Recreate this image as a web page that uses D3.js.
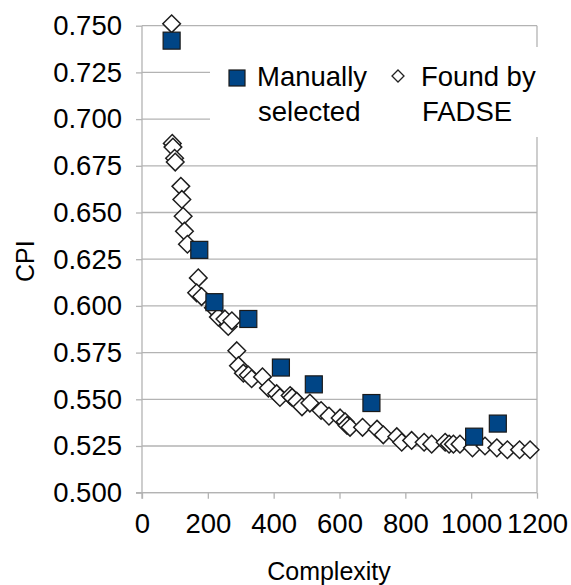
<!DOCTYPE html>
<html>
<head>
<meta charset="utf-8">
<script src="https://cdn.jsdelivr.net/npm/d3@7"></script>
<style>
  body { margin: 0; background: #fff; }
  text { font-family: "Liberation Sans", Arial, sans-serif; fill: #000; }
</style>
</head>
<body>
<svg id="chart" width="571" height="585"></svg>
<script>
var X_TICKS = [0, 200, 400, 600, 800, 1000, 1200]
var Y_TICKS = [0.500, 0.525, 0.550, 0.575, 0.600, 0.625, 0.650, 0.675, 0.700, 0.725, 0.750]

// Manually selected configurations
var manualX = [90, 174, 220, 323, 422, 522, 697, 1009, 1081]
var manualY = [0.742, 0.630, 0.602, 0.593, 0.567, 0.558, 0.548, 0.530, 0.537]

// Found by FADSE
var fadseX = [90, 92, 94, 99, 101, 118, 121, 125, 129, 138, 171, 166, 181, 217, 232, 252, 262, 273,
  288, 293, 308, 323, 333, 366, 384, 409, 419, 450, 456, 470, 486, 510, 544, 568, 602, 617, 623,
  632, 670, 714, 733, 774, 789, 819, 857, 880, 921, 933, 946, 966, 1004, 1042, 1078, 1110, 1147, 1179]
var fadseY = [0.751, 0.687, 0.685, 0.679, 0.677, 0.664, 0.657, 0.648, 0.640, 0.633, 0.615, 0.607, 0.605,
  0.599, 0.594, 0.593, 0.589, 0.592, 0.576, 0.568, 0.564, 0.563, 0.561, 0.562, 0.556, 0.553, 0.551,
  0.552, 0.551, 0.549, 0.546, 0.548, 0.544, 0.541, 0.540, 0.538, 0.536, 0.535, 0.535, 0.534, 0.531,
  0.530, 0.527, 0.528, 0.527, 0.526, 0.527, 0.526, 0.526, 0.526, 0.524, 0.525, 0.524, 0.523, 0.523, 0.523]

var LEFT = 142, RIGHT = 537, TOP = 25.7, BOTTOM = 492.7
var GRID_COLOR = "#b3b3b3"
var BLUE = "#004586"
var FONT = 27.5

var svg = d3.select("#chart")

var x = d3.scaleLinear().domain([0, 1200]).range([LEFT, RIGHT])
var y = d3.scaleLinear().domain([0.5, 0.75]).range([BOTTOM, TOP])

// horizontal grid
svg.append("g").selectAll("line")
  .data(Y_TICKS)
  .join("line")
  .attr("x1", LEFT)
  .attr("x2", RIGHT)
  .attr("y1", d => y(d))
  .attr("y2", d => y(d))
  .style("stroke", GRID_COLOR)
  .style("stroke-width", 1.3)

// right border of the wall
svg.append("line")
  .attr("x1", RIGHT).attr("x2", RIGHT)
  .attr("y1", TOP).attr("y2", BOTTOM)
  .style("stroke", GRID_COLOR)
  .style("stroke-width", 1.3)

var yAxis = svg.append("g")
  .attr("transform", "translate(" + LEFT + ",0)")
  .call(d3.axisLeft(y).tickValues(Y_TICKS).tickSize(6).tickPadding(14).tickFormat(d3.format(".3f")))
var xAxis = svg.append("g")
  .attr("transform", "translate(0," + BOTTOM + ")")
  .call(d3.axisBottom(x).tickValues(X_TICKS).tickSize(6).tickPadding(15).tickFormat(d3.format("d")))

for (var ax of [xAxis, yAxis]) {
  ax.select(".domain").style("stroke", GRID_COLOR).style("stroke-width", 1.3)
  ax.selectAll(".tick line").style("stroke", GRID_COLOR).style("stroke-width", 1.3)
  ax.selectAll(".tick text").style("font-size", FONT + "px").style("font-family", "Liberation Sans, Arial, sans-serif").attr("fill", "#000")
}
xAxis.selectAll(".tick text").attr("dy", "0.72em")
xAxis.select(".domain").attr("d", "M" + (LEFT - 6) + ",0H" + RIGHT)
yAxis.select(".domain").attr("d", "M0," + TOP + "V" + (BOTTOM + 6))

// legend box, drawn over the grid
svg.append("rect")
  .attr("x", 210).attr("y", 47)
  .attr("width", 350).attr("height", 90)
  .style("fill", "#fff")

function diamondPath(cx, cy, r) {
  return "M" + cx + "," + (cy - r) + "L" + (cx + r) + "," + cy + "L" + cx + "," + (cy + r) + "L" + (cx - r) + "," + cy + "Z"
}

svg.append("g").selectAll("path")
  .data(d3.range(fadseX.length))
  .join("path")
  .attr("d", i => diamondPath(x(fadseX[i]), y(fadseY[i]), 8.8))
  .style("fill", "#fff")
  .style("stroke", "#1e1e1e")
  .style("stroke-width", 1.5)

svg.append("g").selectAll("rect")
  .data(d3.range(manualX.length))
  .join("rect")
  .attr("x", i => x(manualX[i]) - 8.5)
  .attr("y", i => y(manualY[i]) - 8.5)
  .attr("width", 17)
  .attr("height", 17)
  .style("fill", BLUE)
  .style("stroke", "#1a1a1a")
  .style("stroke-width", 1.2)

// legend
var legend = svg.append("g")
legend.append("rect")
  .attr("x", 229).attr("y", 70)
  .attr("width", 16).attr("height", 16)
  .style("fill", BLUE).style("stroke", "#1a1a1a").style("stroke-width", 1.2)
legend.append("path")
  .attr("d", diamondPath(398, 76, 6))
  .style("fill", "#fff").style("stroke", "#222").style("stroke-width", 1.3)
var legendText = [["Manually", 257, 86], ["selected", 258, 121], ["Found by", 421, 86], ["FADSE", 422, 121]]
legend.selectAll("text")
  .data(legendText)
  .join("text")
  .attr("x", d => d[1])
  .attr("y", d => d[2])
  .style("font-size", FONT + "px")
  .text(d => d[0])

svg.append("text")
  .attr("x", 329)
  .attr("y", 580)
  .attr("text-anchor", "middle")
  .style("font-size", "25px")
  .text("Complexity")

svg.append("text")
  .attr("transform", "translate(34," + ((TOP + BOTTOM) / 2 + 2) + ") rotate(-90)")
  .attr("text-anchor", "middle")
  .style("font-size", "25px")
  .text("CPI")
</script>
</body>
</html>
